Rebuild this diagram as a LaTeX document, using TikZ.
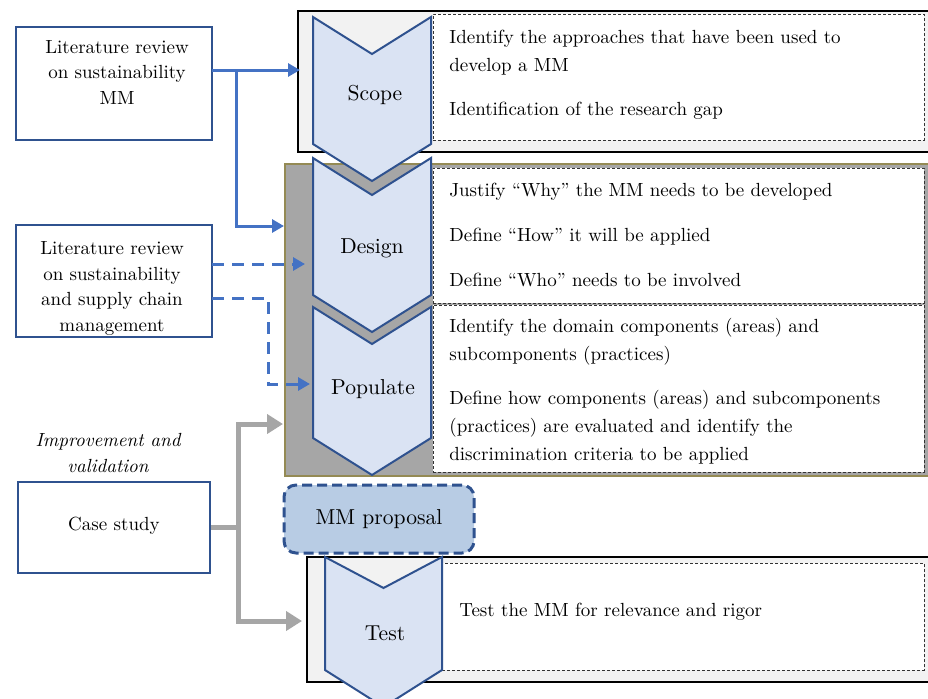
\documentclass[tikz,border=0pt]{standalone}
\usepackage{tikz}
\usetikzlibrary{arrows.meta,positioning,fit}
\definecolor{mmdark}{RGB}{47,82,143}
\definecolor{mmblue}{RGB}{68,114,196}
\definecolor{mmpale}{RGB}{218,227,243}
\definecolor{mmprop}{RGB}{184,204,228}
\definecolor{mmgrey}{RGB}{166,166,166}
\definecolor{mmlight}{RGB}{242,242,242}
\definecolor{mmolive}{RGB}{148,138,84}

\begin{document}
\begin{tikzpicture}[
    x=0.5pt, y=-0.5pt,
    font=\fontsize{9.5}{12.75}\selectfont,
    source/.style={rectangle, draw=mmdark, line width=1pt, inner sep=0pt},
    srctext/.style={align=center, anchor=base, inner sep=0pt},
    panel/.style={rectangle, draw=black, fill=mmlight, line width=0.6pt, inner sep=0pt},
    notes/.style={rectangle, draw=black!80, dash pattern=on 1.5pt off 1pt, fill=white, line width=0.4pt, inner sep=0pt},
    notetext/.style={align=left, anchor=base west, inner sep=0pt, font=\fontsize{9.5}{14}\selectfont},
    chevron/.style={draw=mmdark, fill=mmpale, line width=1pt, line join=miter},
    stage/.style={anchor=base, inner sep=0pt, font=\fontsize{10.8}{13}\selectfont},
    proposal/.style={rectangle, rounded corners=6pt, draw=mmdark, fill=mmprop, line width=1.5pt, dash pattern=on 5pt off 2.5pt, minimum width=95pt, minimum height=34pt, font=\fontsize{10.8}{13}\selectfont},
    arrow/.style={-{Triangle[length=6pt, width=6.5pt]}, mmblue, line width=1.5pt},
    dasharrow/.style={arrow, dash pattern=on 6pt off 4pt},
    greyarrow/.style={-{Triangle[length=8pt, width=9.5pt]}, mmgrey, line width=2.5pt}
]
\useasboundingbox (0,0) rectangle (928,698);

% Stage panels
\node[panel, fit={(298,11) (934,152)}] (scopepanel) {};
\node[panel, fill=mmgrey, draw=mmolive, fit={(285,164) (934,476)}] (buildpanel) {};
\node[panel, fit={(307,557) (934,682)}] (testpanel) {};

% Activities of each stage (text placed by its last baseline)
\node[notes, fit={(433,14) (924,140)}] (scopenotes) {};
\node[notes, fit={(433,168) (924,303)}] (designnotes) {};
\node[notes, fit={(433,305) (924,472)}] (popnotes) {};
\node[notes, fit={(442,563) (924,670)}] (testnotes) {};

\node[notetext] (scopetext) at (449,115) {Identify the approaches that have been used to\\develop a MM\\[8pt]Identification of the research gap};
\node[notetext] (designtext) at (449,286) {Justify ``Why'' the MM needs to be developed\\[8.5pt]Define ``How'' it will be applied\\[8.5pt]Define ``Who'' needs to be involved};
\node[notetext] (poptext) at (449,460) {Identify the domain components (areas) and\\subcomponents (practices)\\[8pt]Define how components (areas) and subcomponents\\(practices) are evaluated and identify the\\discrimination criteria to be applied};
\node[notetext] (testtext) at (459,616) {Test the MM for relevance and rigor};

% Chevrons
\draw[chevron] (313,17) -- ++(59,37) -- ++(59,-37) -- ++(0,127) -- ++(-59,37) -- ++(-59,-37) -- cycle;
\draw[chevron] (313,158) -- ++(59,37) -- ++(59,-37) -- ++(0,137) -- ++(-59,37) -- ++(-59,-37) -- cycle;
\draw[chevron] (313,307) -- ++(59,37) -- ++(59,-37) -- ++(0,131) -- ++(-59,37) -- ++(-59,-37) -- cycle;
\draw[chevron] (325,557) -- ++(58.5,31) -- ++(58.5,-31) -- ++(0,113) -- ++(-58.5,37) -- ++(-58.5,-37) -- cycle;

\node[stage] (scope) at (375,100) {Scope};
\node[stage] (design) at (372,253) {Design};
\node[stage] (populate) at (373,394) {Populate};
\node[stage] (test) at (385,640) {Test};

\node[proposal] (mmprop) at (379,519) {MM proposal};

% Sources
\node[source, fit={(16,27) (212,140)}] (litA) {};
\node[source, fit={(16,225) (212,337)}] (litB) {};
\node[source, fit={(18,482) (210,573)}] (case) {};
\node[srctext] (litAtext) at (117,104) {Literature review\\on sustainability\\MM};
\node[srctext] (litBtext) at (112,331) {Literature review\\on sustainability\\and supply chain\\management};
\node[srctext] (casetext) at (114,530) {Case study};
\node[srctext, font=\fontsize{9.5}{13}\selectfont\itshape] (casenote) at (108,472) {Improvement and\\validation};

% Arrows
\coordinate (litAout) at (212,70);
\coordinate (split) at (236,70);
\coordinate (scopein) at (300,70);
\coordinate (designin) at (284,226);
\coordinate (litBout1) at (212,264);
\coordinate (litBout2) at (212,298);
\coordinate (designin2) at (305,264);
\coordinate (popin) at (310,384);
\coordinate (popgrey) at (283,424);
\coordinate (testin) at (302,621);

\draw[arrow] (litAout) -- (scopein);
\draw[arrow] (split) |- (designin);
\draw[dasharrow] (litBout1) -- (designin2);
\draw[dasharrow] (litBout2) -- ++(56,0) |- (popin);
\draw[greyarrow] (case.east) -- ++(27,0) |- (popgrey);
\draw[greyarrow] (case.east) -- ++(27,0) |- (testin);

\end{tikzpicture}
\end{document}
